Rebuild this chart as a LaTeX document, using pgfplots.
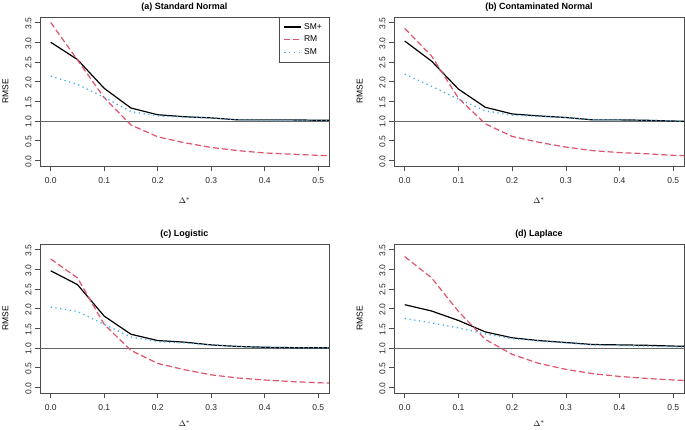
\documentclass[border=0pt]{standalone}
\usepackage{pgfplots}
\pgfplotsset{compat=1.18}
\usepackage{fontspec}
\setmainfont{Liberation Sans}
\definecolor{rmred}{HTML}{DF536B}
\definecolor{smblue}{HTML}{3AAEF0}
\pgfplotsset{
  panel/.style={
    scale only axis, width=289pt, height=149pt,
    xmin=-0.02, xmax=0.52, ymin=-0.14, ymax=3.64,
    xtick={0,0.1,0.2,0.3,0.4,0.5},
    ytick={0,0.5,1,1.5,2,2.5,3,3.5},
    xtick pos=bottom, ytick pos=left,
    tick align=outside,
    major tick length=5pt,
    tick style={black!70, line width=0.6pt},
    axis line style={black!70, line width=0.7pt},
    /pgf/number format/assume math mode=true,
    /pgf/number format/.cd, fixed, fixed zerofill, precision=1, /pgfplots/.cd,
    ticklabel style={font=\fontsize{8.5}{10}\selectfont, text=black!85},
    yticklabel style={rotate=90, anchor=south, xshift=-1pt},
    xticklabel style={yshift=-3pt},
    ylabel={RMSE},
    xlabel={$\Delta^{*}$},
    label style={font=\fontsize{8.5}{10}\selectfont},
    ylabel style={yshift=10pt},
    title style={font=\fontsize{9}{11}\selectfont\bfseries, yshift=-4pt},
    clip=true,
  },
  smplus/.style={black, line width=1.2pt, no marks},
  rm/.style={rmred, line width=1.2pt, dash pattern=on 6pt off 3pt, no marks},
  sm/.style={smblue, line width=1.3pt, dash pattern=on 1.2pt off 3.6pt, no marks},
  refline/.style={black!60, line width=0.9pt, no marks, forget plot},
}
\begin{document}
\begin{tikzpicture}
\useasboundingbox (0pt,0pt) rectangle (685pt,430pt);
% (a)
\begin{axis}[panel, at={(40pt,264pt)}, anchor=south west, title={(a) Standard Normal},
  xlabel style={yshift=-7pt},
  legend style={at={(1,1)}, anchor=north east, draw=black!70, font=\fontsize{8.5}{10}\selectfont, row sep=1.5pt, inner xsep=5pt, inner ysep=4pt},
  legend cell align=left]
\addplot[refline] coordinates {(-0.02,1) (0.52,1)};
\addplot[smplus] coordinates {(0,3.00) (0.05,2.56) (0.1,1.83) (0.15,1.33) (0.2,1.16) (0.25,1.11) (0.3,1.08) (0.35,1.03) (0.4,1.03) (0.45,1.03) (0.5,1.02) (0.55,1.02)};
\addlegendentry{SM+}
\addplot[rm] coordinates {(0,3.50) (0.05,2.55) (0.1,1.59) (0.15,0.90) (0.2,0.60) (0.25,0.45) (0.3,0.33) (0.35,0.25) (0.4,0.19) (0.45,0.16) (0.5,0.13) (0.55,0.11)};
\addlegendentry{RM}
\addplot[sm] coordinates {(0,2.14) (0.05,1.93) (0.1,1.60) (0.15,1.24) (0.2,1.13) (0.25,1.10) (0.3,1.08) (0.35,1.03) (0.4,1.02) (0.45,1.02) (0.5,1.02) (0.55,1.02)};
\addlegendentry{SM}
\end{axis}
% (b)
\begin{axis}[panel, at={(394pt,264pt)}, anchor=south west, width=290pt, title={(b) Contaminated Normal}, xlabel style={yshift=-7pt}]
\addplot[refline] coordinates {(-0.02,1) (0.52,1)};
\addplot[smplus] coordinates {(0,3.03) (0.05,2.52) (0.1,1.81) (0.15,1.35) (0.2,1.18) (0.25,1.13) (0.3,1.09) (0.35,1.03) (0.4,1.03) (0.45,1.02) (0.5,1.00) (0.55,0.99)};
\addplot[rm] coordinates {(0,3.35) (0.05,2.65) (0.1,1.58) (0.15,0.93) (0.2,0.61) (0.25,0.46) (0.3,0.34) (0.35,0.25) (0.4,0.20) (0.45,0.17) (0.5,0.13) (0.55,0.11)};
\addplot[sm] coordinates {(0,2.19) (0.05,1.88) (0.1,1.56) (0.15,1.26) (0.2,1.15) (0.25,1.12) (0.3,1.09) (0.35,1.03) (0.4,1.03) (0.45,1.02) (0.5,1.00) (0.55,0.99)};
\end{axis}
% (c)
\begin{axis}[panel, at={(40pt,37pt)}, anchor=south west, title={(c) Logistic}, xlabel style={yshift=-3pt}]
\addplot[refline] coordinates {(-0.02,1) (0.52,1)};
\addplot[smplus] coordinates {(0,2.96) (0.05,2.61) (0.1,1.81) (0.15,1.35) (0.2,1.19) (0.25,1.15) (0.3,1.08) (0.35,1.04) (0.4,1.02) (0.45,1.01) (0.5,1.01) (0.55,1.01)};
\addplot[rm] coordinates {(0,3.26) (0.05,2.78) (0.1,1.60) (0.15,0.94) (0.2,0.61) (0.25,0.45) (0.3,0.32) (0.35,0.24) (0.4,0.19) (0.45,0.15) (0.5,0.12) (0.55,0.10)};
\addplot[sm] coordinates {(0,2.04) (0.05,1.93) (0.1,1.60) (0.15,1.28) (0.2,1.16) (0.25,1.13) (0.3,1.08) (0.35,1.04) (0.4,1.02) (0.45,1.01) (0.5,1.01) (0.55,1.01)};
\end{axis}
% (d)
\begin{axis}[panel, at={(394pt,37pt)}, anchor=south west, width=290pt, title={(d) Laplace}, xlabel style={yshift=-3pt}]
\addplot[refline] coordinates {(-0.02,1) (0.52,1)};
\addplot[smplus] coordinates {(0,2.10) (0.05,1.94) (0.1,1.70) (0.15,1.41) (0.2,1.26) (0.25,1.19) (0.3,1.14) (0.35,1.09) (0.4,1.08) (0.45,1.07) (0.5,1.05) (0.55,1.04)};
\addplot[rm] coordinates {(0,3.32) (0.05,2.78) (0.1,1.93) (0.15,1.22) (0.2,0.84) (0.25,0.61) (0.3,0.46) (0.35,0.35) (0.4,0.28) (0.45,0.23) (0.5,0.19) (0.55,0.16)};
\addplot[sm] coordinates {(0,1.75) (0.05,1.64) (0.1,1.51) (0.15,1.36) (0.2,1.24) (0.25,1.18) (0.3,1.13) (0.35,1.08) (0.4,1.06) (0.45,1.05) (0.5,1.03) (0.55,1.02)};
\end{axis}
\end{tikzpicture}
\end{document}
